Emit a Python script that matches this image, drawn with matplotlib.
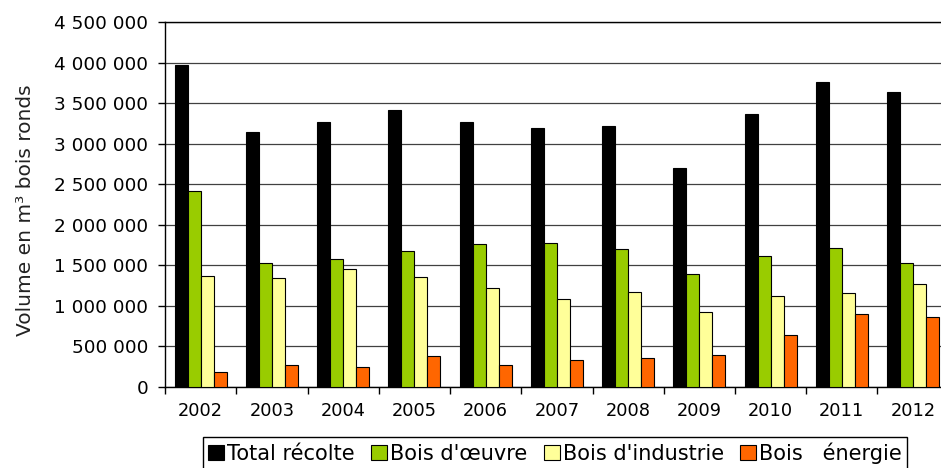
import matplotlib
matplotlib.use("Agg")
import matplotlib.pyplot as plt
import numpy as np
from matplotlib.ticker import FuncFormatter, MultipleLocator

years = ["2002", "2003", "2004", "2005", "2006", "2007", "2008", "2009", "2010", "2011", "2012"]
total = [3970000, 3140000, 3267000, 3415000, 3263000, 3189000, 3214000, 2700000, 3366000, 3760000, 3641000]
oeuvre = [2420000, 1532000, 1574000, 1680000, 1767000, 1771000, 1697000, 1397000, 1615000, 1717000, 1525000]
industrie = [1368000, 1344000, 1455000, 1360000, 1224000, 1089000, 1175000, 920000, 1118000, 1155000, 1266000]
energie = [181000, 267000, 247000, 382000, 275000, 329000, 353000, 390000, 641000, 896000, 863000]

series = [
    ("Total récolte", total, "#000000"),
    ("Bois d'œuvre", oeuvre, "#99CC00"),
    ("Bois d'industrie", industrie, "#FFFF99"),
    ("Bois   énergie", energie, "#FF6600"),
]

plt.rcParams['font.family'] = ['DejaVu Sans']

fig = plt.figure(figsize=(9.41, 4.68), dpi=100)
ax = fig.add_axes([165 / 941, 81 / 468, 783.75 / 941, 365 / 468])

x = np.arange(len(years))
w = 0.183
for i, (name, vals, col) in enumerate(series):
    ax.bar(x + (i - 1.5) * w, vals, w, color=col, edgecolor="#000000",
           linewidth=0.8, label=name, zorder=3)

ax.set_xlim(-0.5, len(years) - 0.5)
ax.set_ylim(0, 4500000)
ax.yaxis.set_major_locator(MultipleLocator(500000))
ax.yaxis.set_major_formatter(FuncFormatter(lambda v, p: "{:,}".format(int(v)).replace(",", " ")))
ax.grid(axis="y", color="#404040", linewidth=0.9, zorder=0)

ax.set_xticks(x)
ax.set_xticklabels(years)
ax.set_xticks(np.arange(-0.5, len(years)), minor=True)
ax.tick_params(axis="x", which="major", length=0, pad=11, labelsize=12.8)
ax.tick_params(axis="x", which="minor", length=5, width=1, direction="out")
ax.tick_params(axis="y", length=5, width=1, pad=7, labelsize=13.3)

for s in ["left", "bottom", "top"]:
    ax.spines[s].set_linewidth(1)
    ax.spines[s].set_color("#000000")
ax.spines["right"].set_visible(False)

ax.set_ylabel("Volume en m³ bois ronds", fontsize=14.5, color="#222222")
ax.yaxis.set_label_coords(-0.166, 0.485)

leg = fig.legend(loc="upper left", bbox_to_anchor=(203 / 941, 31 / 468), ncol=4,
                 fontsize=15, frameon=True, fancybox=False, framealpha=1,
                 edgecolor="#000000", handlelength=0.75, handleheight=0.75,
                 handletextpad=0.15, columnspacing=0.8, borderpad=0.25,
                 borderaxespad=0)
leg.get_frame().set_linewidth(1)

fig.savefig("out.png", dpi=100)
